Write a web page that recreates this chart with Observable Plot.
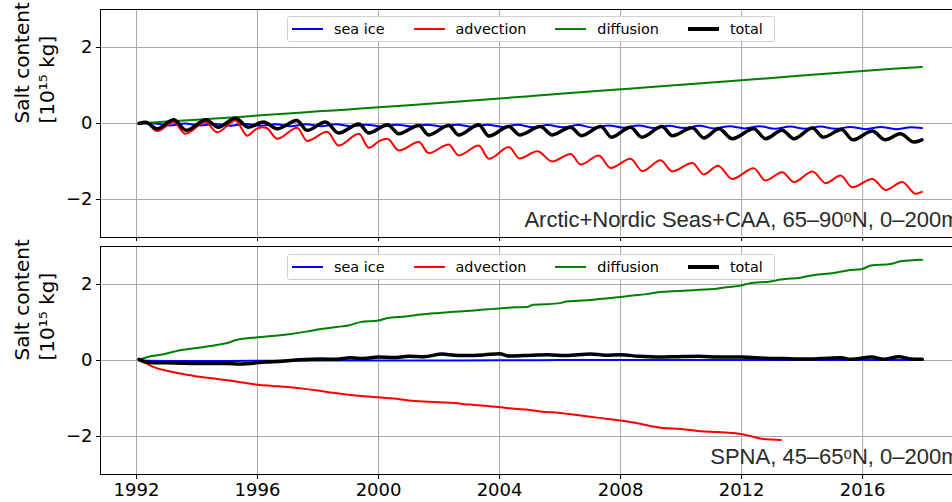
<!DOCTYPE html>
<html><head><meta charset="utf-8">
<script src="https://cdn.jsdelivr.net/npm/d3@7"></script>
<script src="https://cdn.jsdelivr.net/npm/@observablehq/plot@0.6"></script>
<style>
html,body{margin:0;padding:0;background:#fff;overflow:hidden;width:952px;height:502px}
#chart{position:relative;width:970px}
.panel{position:relative;height:auto}
.panel svg{display:block}
.legend{position:absolute;left:287px;width:488px;height:26px;border:1px solid #d0d0d0;border-radius:3px;background:rgba(255,255,255,0.85);display:flex;align-items:center;font:14.4px "DejaVu Sans";padding:0 0 0 4px;box-sizing:border-box;color:#000}
.sw{width:31px;margin-right:11px;flex:none}
.lab{margin-right:29px;white-space:nowrap;line-height:1}
</style></head>
<body><div id="chart"></div>
<script>
// ---------- Panel titles / legend ----------
const seriesNames = ["sea ice", "advection", "diffusion", "total"];
const seriesColors = ["#0000ff", "#ff0000", "#008000", "#000000"];
const xTickYears = [1992, 1996, 2000, 2004, 2008, 2012, 2016];
const yTickValues = [-2, 0, 2];
const panelTitles = ["Arctic+Nordic Seas+CAA, 65–90ᵒN, 0–200m", "SPNA, 45–65ᵒN, 0–200m"];
const yLabelText = "Salt content\n[10¹⁵ kg]";

// ---------- Arctic panel (top) ----------
const arcticAdvT = [1992.08,1992.30,1992.68,1993.23,1993.62,1994.28,1994.67,1995.27,1995.66,1995.95,1996.15,1996.30,1996.65,1997.31,1997.64,1998.30,1998.68,1999.35,1999.68,2000.05,2000.29,2000.67,2001.33,2001.66,2002.32,2002.65,2003.31,2003.65,2004.31,2004.66,2005.25,2005.74,2006.35,2006.68,2007.28,2007.67,2008.33,2008.72,2009.32,2009.71,2010.37,2010.75,2011.22,2011.69,2012.40,2012.79,2013.34,2013.73,2014.34,2014.78,2015.27,2015.66,2016.32,2016.76,2017.31,2017.75,2017.96];
const arcticAdvV = [0,0.03,-0.20,0.03,-0.27,0.03,-0.23,0.08,-0.32,-0.15,-0.10,-0.12,-0.40,-0.11,-0.46,-0.22,-0.58,-0.27,-0.64,-0.45,-0.40,-0.71,-0.49,-0.78,-0.55,-0.84,-0.58,-0.93,-0.62,-0.92,-0.73,-1.00,-0.80,-1.08,-0.84,-1.17,-0.93,-1.25,-0.97,-1.26,-1.04,-1.34,-1.11,-1.46,-1.18,-1.50,-1.28,-1.54,-1.26,-1.57,-1.37,-1.68,-1.46,-1.75,-1.54,-1.85,-1.80];

const arcticTotT = [1992.08,1992.30,1992.68,1993.23,1993.64,1994.30,1994.70,1995.27,1995.70,1996.20,1996.65,1997.30,1997.64,1998.25,1998.68,1999.35,1999.68,2000.30,2000.67,2001.33,2001.66,2002.32,2002.65,2003.31,2003.65,2004.31,2004.66,2005.35,2005.74,2006.35,2006.70,2007.35,2007.70,2008.33,2008.70,2009.37,2009.71,2010.37,2010.75,2011.25,2011.69,2012.40,2012.79,2013.34,2013.73,2014.34,2014.70,2015.30,2015.68,2016.32,2016.75,2017.25,2017.70,2017.96];
const arcticTotV = [0,0.03,-0.14,0.10,-0.18,0.10,-0.10,0.14,-0.10,0.04,-0.14,0.08,-0.18,0.04,-0.25,-0.01,-0.25,-0.03,-0.27,-0.05,-0.30,-0.05,-0.30,-0.03,-0.33,-0.08,-0.30,-0.08,-0.30,-0.10,-0.32,-0.08,-0.36,-0.10,-0.36,-0.08,-0.32,-0.11,-0.38,-0.14,-0.40,-0.14,-0.40,-0.18,-0.40,-0.12,-0.36,-0.16,-0.43,-0.20,-0.43,-0.27,-0.49,-0.43];

const arcticIceT = [1992.08,1992.60,1993.10,1993.60,1994.10,1994.60,1995.10,1995.60,1996.10,1996.60,1997.10,1997.60,1998.10,1998.60,1999.10,1999.60,2000.10,2000.60,2001.10,2001.60,2002.10,2002.60,2003.10,2003.60,2004.10,2004.60,2005.10,2005.60,2006.10,2006.60,2007.10,2007.60,2008.10,2008.60,2009.10,2009.60,2010.10,2010.60,2011.10,2011.60,2012.10,2012.60,2013.10,2013.60,2014.10,2014.60,2015.10,2015.60,2016.10,2016.60,2017.10,2017.60,2017.96];
const arcticIceV = [0,0.00,-0.05,0.00,-0.05,-0.01,-0.06,-0.01,-0.06,-0.02,-0.07,-0.02,-0.07,-0.02,-0.07,-0.03,-0.08,-0.03,-0.08,-0.03,-0.08,-0.03,-0.09,-0.03,-0.09,-0.03,-0.10,-0.04,-0.10,-0.04,-0.11,-0.05,-0.11,-0.05,-0.12,-0.06,-0.12,-0.06,-0.13,-0.07,-0.13,-0.07,-0.14,-0.08,-0.14,-0.08,-0.14,-0.09,-0.15,-0.09,-0.15,-0.10,-0.12];

const arcticDifT = [1992.08,1993,1994,1995,1996,1997,1998,1999,2000,2001,2002,2003,2004,2005,2006,2007,2008,2009,2010,2011,2012,2013,2014,2015,2016,2017,2017.96];
const arcticDifV = [0,0.05,0.10,0.15,0.21,0.26,0.32,0.37,0.43,0.48,0.54,0.60,0.66,0.72,0.78,0.84,0.90,0.96,1.02,1.08,1.14,1.20,1.26,1.32,1.38,1.44,1.49];

// ---------- SPNA panel (bottom) ----------
const spnaDifT = [1992.08,1992.4,1992.8,1993.45,1994.1,1994.6,1995.0,1995.3,1996.0,1996.6,1997.1,1997.6,1998.1,1998.6,1999.0,1999.4,2000.0,2000.3,2000.9,2001.4,2002.0,2002.5,2002.9,2003.5,2004.0,2004.5,2004.9,2005.12,2005.5,2006.0,2006.2,2006.6,2007.1,2007.6,2008.0,2008.4,2008.8,2009.3,2009.7,2010.2,2010.6,2011.08,2011.5,2011.97,2012.25,2012.96,2013.3,2013.95,2014.4,2015.04,2015.5,2015.99,2016.27,2016.93,2017.26,2017.97];
const spnaDifV = [0.02,0.10,0.15,0.27,0.34,0.40,0.46,0.54,0.61,0.65,0.70,0.76,0.83,0.88,0.92,1.01,1.05,1.12,1.16,1.21,1.25,1.28,1.30,1.34,1.37,1.40,1.41,1.47,1.48,1.51,1.55,1.57,1.60,1.64,1.67,1.71,1.74,1.80,1.82,1.84,1.86,1.88,1.93,1.97,2.03,2.08,2.13,2.18,2.25,2.30,2.37,2.41,2.50,2.54,2.61,2.65];

const spnaAdvT = [1992.08,1992.3,1992.6,1993.0,1993.5,1994.0,1994.5,1995.0,1995.5,1996.0,1996.5,1997.0,1997.5,1998.0,1998.5,1999.0,1999.5,2000.0,2000.5,2001.0,2001.5,2002.0,2002.5,2003.0,2003.5,2004.03,2004.5,2005.0,2005.35,2006.0,2006.68,2007.3,2008.0,2008.6,2009.32,2010.0,2010.64,2011.2,2011.74,2012.2,2012.6,2013.0,2013.3];
const spnaAdvV = [0,-0.07,-0.18,-0.27,-0.35,-0.42,-0.47,-0.52,-0.58,-0.64,-0.67,-0.70,-0.74,-0.79,-0.85,-0.90,-0.94,-0.97,-1.00,-1.05,-1.08,-1.10,-1.12,-1.16,-1.19,-1.23,-1.27,-1.30,-1.34,-1.38,-1.45,-1.51,-1.58,-1.66,-1.77,-1.80,-1.86,-1.88,-1.91,-1.97,-2.05,-2.08,-2.09];

const spnaTotT = [1992.08,1992.4,1993.0,1993.5,1994.3,1995.0,1995.4,1996.3,1996.8,1997.4,1998.1,1998.6,1999.07,1999.5,2000.0,2000.5,2001.0,2001.5,2002.1,2002.5,2002.9,2003.5,2004.0,2004.3,2004.8,2005.6,2006.2,2007.0,2007.5,2008.0,2008.6,2009.3,2009.9,2010.6,2011.2,2012.0,2012.8,2013.4,2013.95,2014.6,2015.3,2015.6,2016.3,2016.7,2017.2,2017.6,2017.97];
const spnaTotV = [0.03,-0.05,-0.06,-0.07,-0.08,-0.08,-0.09,-0.04,-0.02,0.02,0.04,0.03,0.07,0.05,0.09,0.08,0.11,0.10,0.17,0.14,0.13,0.15,0.18,0.12,0.13,0.15,0.13,0.17,0.14,0.15,0.11,0.09,0.10,0.11,0.09,0.09,0.06,0.05,0.04,0.05,0.07,0.03,0.09,0.03,0.10,0.04,0.03];

const spnaIceT = [1992.08,1993,1995,1998,2002,2006,2010,2014,2017.97];
const spnaIceV = [0,-0.01,-0.01,0.0,0.0,0.01,0.01,0.01,0.01];

// ---------- helpers ----------
const rows = (T, V) => T.map((t, i) => ({t, v: V[i]}));
const fmtY = d => d < 0 ? "\u2212" + Math.abs(d) : String(d);

function panel({series, title, height, marginTop, marginBottom, showLabels, legendTop}) {
  const wrap = document.createElement("div");
  wrap.className = "panel";
  const widths = [2, 2, 2, 3.5];
  const chart = Plot.plot({
    width: 970, height, marginLeft: 100, marginRight: 5, marginTop, marginBottom,
    style: {fontFamily: "DejaVu Sans", fontSize: "18px", color: "#000", background: "transparent", overflow: "visible"},
    x: {domain: [1990.81, 2019.40], ticks: xTickYears, tickFormat: showLabels ? d => String(d) : () => "", tickSize: showLabels ? 5 : 4, tickPadding: 4, label: null},
    y: {domain: [-3, 3], ticks: yTickValues, tickFormat: fmtY, tickSize: 4, tickPadding: 4, label: null},
    marks: [
      Plot.ruleX(xTickYears, {stroke: "#a8a8a8", strokeWidth: 1}),
      Plot.ruleY(yTickValues, {stroke: "#a8a8a8", strokeWidth: 1}),
      ...series.map((s, i) => Plot.line(rows(s[0], s[1]), {x: "t", y: "v", stroke: seriesColors[i], strokeWidth: widths[i], curve: "monotone-x"})),
      Plot.frame({stroke: "#000", strokeWidth: 1}),
      Plot.text([title], {text: d => d, frameAnchor: "bottom-right", textAnchor: "end", lineAnchor: "bottom", dx: -6, dy: -11, fontFamily: "Liberation Sans", fontSize: 22, fill: "#2a2a2a"}),
      Plot.text([yLabelText], {text: d => d, frameAnchor: "left", rotate: -90, dx: -67, fontSize: 20, lineHeight: 1.235, fill: "#000"})
    ]
  });
  wrap.appendChild(chart);
  const lg = document.createElement("div");
  lg.className = "legend";
  lg.style.top = legendTop + "px";
  seriesNames.forEach((n, i) => {
    const sw = document.createElement("div");
    sw.className = "sw";
    sw.style.height = (i === 3 ? 4 : 2) + "px";
    sw.style.background = seriesColors[i];
    const lb = document.createElement("span");
    lb.className = "lab";
    lb.textContent = n;
    if (i === 3) lb.style.marginRight = "0";
    lg.appendChild(sw); lg.appendChild(lb);
  });
  wrap.appendChild(lg);
  return wrap;
}

const root = document.getElementById("chart");
root.appendChild(panel({
  series: [[arcticIceT, arcticIceV], [arcticAdvT, arcticAdvV], [arcticDifT, arcticDifV], [arcticTotT, arcticTotV]],
  title: panelTitles[0], height: 241, marginTop: 9, marginBottom: 4, showLabels: false, legendTop: 16
}));
root.appendChild(panel({
  series: [[spnaIceT, spnaIceV], [spnaAdvT, spnaAdvV], [spnaDifT, spnaDifV], [spnaTotT, spnaTotV]],
  title: panelTitles[1], height: 261, marginTop: 5, marginBottom: 28, showLabels: true, legendTop: 13
}));
</script>
</body></html>
